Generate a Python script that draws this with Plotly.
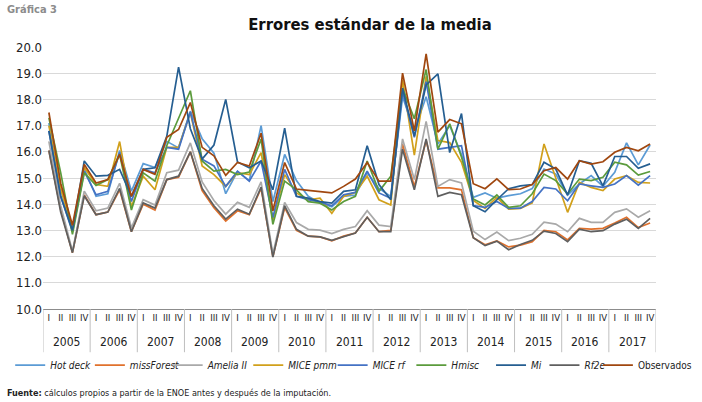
import plotly.graph_objects as go

# Quarterly standard errors of the mean, 2005-I to 2017-IV
YEARS = [str(y) for y in range(2005, 2018)]
QUARTERS = ["I", "II", "III", "IV"]

hot_deck = [17.1, 14.6, 13.0, 15.35, 14.3, 14.4, 16.05, 14.5, 15.55, 15.4, 16.4, 16.15, 17.55,
            16.5, 15.95, 14.4, 15.25, 14.9, 17.0, 14.1, 15.9, 14.9, 14.3, 14.05, 13.9, 14.3,
            14.35, 15.2, 14.6, 14.3, 18.1, 16.8, 18.1, 16.3, 17.0, 15.9, 14.26, 14.43, 14.23,
            14.33, 14.4, 14.6, 15.34, 15.15, 14.35, 14.77, 15.09, 14.68, 15.22, 16.34, 15.5, 16.26]
miss_forest = [16.05, 13.8, 12.15, 14.35, 13.6, 13.7, 14.55, 12.95, 14.0, 13.78, 14.94, 15.03, 16.0,
               14.52, 13.87, 13.36, 13.75, 13.6, 14.6, 12.0, 13.87, 13.0, 12.78, 12.75, 12.6, 12.78,
               12.9, 13.5, 12.95, 13.0, 16.3, 14.68, 16.43, 14.62, 14.62, 14.55, 12.72, 12.45, 12.6,
               12.37, 12.44, 12.57, 13.0, 12.95, 12.64, 13.08, 13.05, 13.08, 13.28, 13.5, 13.11, 13.28]
amelia = [16.4, 13.95, 12.2, 14.5, 13.75, 13.85, 14.8, 13.1, 14.17, 13.97, 15.2, 15.3, 16.34,
          14.85, 14.14, 13.62, 14.07, 13.88, 14.85, 12.1, 14.07, 13.3, 13.04, 13.01, 12.88, 13.04,
          13.15, 13.75, 13.2, 13.15, 16.49, 14.94, 17.16, 14.68, 14.94, 14.81, 12.97, 12.65, 12.94,
          12.61, 12.7, 12.85, 13.31, 13.24, 12.95, 13.46, 13.31, 13.31, 13.69, 13.82, 13.5, 13.75]
mice_pmm = [17.0, 14.6, 13.05, 15.4, 14.75, 14.68, 16.39, 13.9, 15.07, 14.55, 16.17, 16.17, 17.5,
            15.46, 15.13, 14.68, 15.2, 15.13, 15.97, 13.4, 15.13, 14.43, 14.17, 14.23, 13.65, 14.3,
            14.45, 15.07, 14.17, 13.97, 18.75, 15.87, 18.88, 16.43, 16.35, 15.6, 14.14, 13.84, 14.26,
            13.81, 13.84, 14.05, 16.3, 14.96, 13.69, 14.83, 14.64, 14.52, 14.96, 15.09, 14.83, 14.81]
mice_rf = [16.8, 14.3, 12.95, 15.25, 14.36, 14.49, 15.97, 14.1, 15.33, 15.2, 16.17, 16.1, 17.52,
           15.72, 15.46, 14.68, 15.26, 14.88, 15.65, 13.49, 15.33, 14.3, 14.17, 14.08, 13.94, 14.36,
           14.45, 15.26, 14.43, 14.23, 18.3, 16.55, 18.68, 16.1, 16.17, 16.23, 13.95, 13.88, 14.1,
           13.84, 13.85, 14.1, 14.64, 14.58, 14.13, 14.77, 14.7, 14.64, 14.77, 15.09, 14.73, 15.09]
hmisc = [17.3, 15.2, 12.85, 15.2, 14.72, 14.94, 15.9, 13.78, 15.2, 14.88, 16.23, 17.3, 18.33,
         15.65, 15.26, 15.33, 15.13, 15.23, 16.49, 13.23, 14.88, 14.55, 14.1, 14.04, 13.78, 14.1,
         14.3, 15.65, 14.49, 15.07, 18.43, 17.26, 19.14, 16.1, 17.07, 15.8, 14.2, 13.97, 14.35,
         13.88, 13.94, 14.4, 15.15, 14.9, 14.39, 14.96, 14.9, 15.03, 15.6, 15.5, 15.11, 15.25]
mi = [16.8, 14.3, 13.0, 15.65, 15.07, 15.1, 15.33, 14.3, 15.33, 15.39, 16.59, 19.23, 16.88,
      15.72, 16.26, 18.0, 15.61, 15.39, 15.65, 14.55, 16.9, 14.3, 14.23, 14.1, 14.04, 14.49,
      14.55, 16.23, 14.75, 14.17, 18.43, 16.6, 18.55, 18.97, 15.97, 17.46, 13.94, 13.71, 14.17,
      14.59, 14.7, 14.75, 15.6, 15.34, 14.35, 15.66, 15.56, 14.7, 15.82, 15.82, 15.37, 15.54]
rf2e = [16.05, 13.7, 12.15, 14.32, 13.6, 13.7, 14.6, 12.95, 14.05, 13.85, 14.94, 15.07, 16.0,
        14.6, 13.94, 13.43, 13.81, 13.62, 14.65, 11.98, 13.94, 13.04, 12.78, 12.75, 12.62, 12.75,
        12.9, 13.5, 12.95, 12.95, 16.1, 14.55, 16.49, 14.3, 14.45, 14.36, 12.72, 12.42, 12.59,
        12.26, 12.46, 12.62, 12.97, 12.88, 12.57, 13.05, 12.95, 12.99, 13.24, 13.43, 13.08, 13.46]
observados = [17.5, 14.8, 13.2, 15.52, 14.81, 14.94, 15.9, 14.3, 15.33, 15.14, 16.55, 16.85, 17.88,
              16.17, 15.85, 15.1, 15.59, 15.46, 16.71, 13.75, 15.59, 14.58, 14.53, 14.49, 14.43, 14.68,
              14.96, 15.59, 14.88, 14.88, 19.0, 16.8, 19.74, 16.75, 17.23, 17.07, 14.78, 14.59, 14.97,
              14.56, 14.58, 14.75, 15.28, 15.4, 14.96, 15.66, 15.53, 15.62, 15.98, 16.17, 16.04, 16.3]

SERIES = [
    ("<i>Hot deck</i>", hot_deck, "#5B9BD5"),
    ("<i>missForest</i>", miss_forest, "#E0712C"),
    ("<i>Amelia II</i>", amelia, "#A9A9A9"),
    ("<i>MICE pmm</i>", mice_pmm, "#D1A01B"),
    ("<i>MICE rf</i>", mice_rf, "#4472C4"),
    ("<i>Hmisc</i>", hmisc, "#5B9B3C"),
    ("<i>Mi</i>", mi, "#255E91"),
    ("<i>Rf2e</i>", rf2e, "#5F5F5F"),
    ("Observados", observados, "#A0470F"),
]

FONT = "DejaVu Sans Condensed, Liberation Sans Narrow, Roboto, sans-serif"
TEXT = "#222222"

# plot area in pixels, used to place the per-series legends
PLOT_LEFT, PLOT_WIDTH = 43, 654
LEGEND_PX = [8, 93, 176, 262, 352, 436, 521, 578, 635]

# one numeric slot per quarter, labelled with the quarter numeral
x_pos = list(range(len(YEARS) * len(QUARTERS)))
tick_text = [q for _ in YEARS for q in QUARTERS]

fig = go.Figure()
for i, (name, values, color) in enumerate(SERIES):
    fig.add_trace(
        go.Scatter(
            x=x_pos,
            y=values,
            name=name,
            mode="lines",
            line=dict(color=color, width=1.7),
            legend="legend" if i == 0 else f"legend{i + 1}",
        )
    )

fig.update_layout(
    width=702,
    height=402,
    paper_bgcolor="white",
    plot_bgcolor="white",
    font=dict(family=FONT, color=TEXT, size=12),
    margin=dict(l=43, r=5, t=47, b=93),
    title=dict(
        text="<b>Errores estándar de la media</b>",
        x=0.527,
        xanchor="center",
        y=0.94,
        yanchor="middle",
        font=dict(family=FONT, size=16.5, color="#111111"),
    ),
    showlegend=True,
    xaxis=dict(
        range=[-0.5, len(x_pos) - 0.5],
        tickmode="array",
        tickvals=x_pos,
        ticktext=tick_text,
        tickangle=0,
        showgrid=False,
        showline=True,
        linecolor="#8C8C8C",
        linewidth=1,
        zeroline=False,
        ticks="",
        tickfont=dict(family=FONT, size=9.5, color=TEXT),
    ),
    yaxis=dict(
        range=[10, 20],
        dtick=1,
        tickformat=".1f",
        showgrid=True,
        gridcolor="#D9D9D9",
        gridwidth=1,
        zeroline=False,
        showline=False,
        ticks="",
        tickfont=dict(family=FONT, size=13, color=TEXT),
    ),
)

# one single-entry legend per series so the row keeps the reference spacing
for i, px in enumerate(LEGEND_PX):
    key = "legend" if i == 0 else f"legend{i + 1}"
    fig.update_layout({
        key: dict(
            orientation="h",
            x=(px - PLOT_LEFT) / PLOT_WIDTH,
            xanchor="left",
            y=-0.214,
            yanchor="middle",
            font=dict(family=FONT, size=10, color=TEXT),
            itemwidth=30,
            bgcolor="rgba(0,0,0,0)",
        )
    })

# year labels and the separators between years
for k, year in enumerate(YEARS):
    fig.add_annotation(
        text=year,
        x=k * 4 + 1.5, xref="x",
        y=-0.125, yref="paper", yanchor="middle",
        showarrow=False,
        font=dict(family=FONT, size=12, color=TEXT),
    )
for k in range(len(YEARS) + 1):
    fig.add_shape(
        type="line",
        x0=k * 4 - 0.5, x1=k * 4 - 0.5, xref="x",
        y0=0, y1=-0.165, yref="paper",
        line=dict(color="#BFBFBF", width=1),
    )

fig.add_annotation(
    text="<b>Gráfica 3</b>",
    xref="paper", yref="paper",
    x=-0.062, y=1.145, xanchor="left", yanchor="middle",
    showarrow=False,
    font=dict(family=FONT, size=11, color="#8C8C8C"),
)
fig.add_annotation(
    text="<b>Fuente:</b> cálculos propios a partir de la ENOE antes y después de la imputación.",
    xref="paper", yref="paper",
    x=-0.062, y=-0.32, yanchor="middle", xanchor="left",
    showarrow=False,
    font=dict(family=FONT, size=9, color=TEXT),
)

# the page body has a default 8px margin; drop it so the figure sits at the corner
fig.write_html(
    "out.html",
    config={"displayModeBar": False},
    post_script="document.body.style.margin='0';",
)
